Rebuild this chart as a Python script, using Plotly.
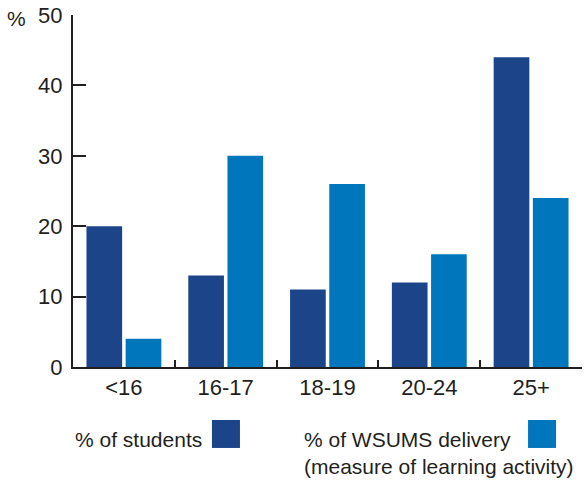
import plotly.graph_objects as go

categories = ["<16", "16-17", "18-19", "20-24", "25+"]
students = [20, 13, 11, 12, 44]
wsums = [4, 30, 26, 16, 24]
series_names = ["% of students", "% of WSUMS delivery"]
legend_note = "(measure of learning activity)"
y_ticks = [0, 10, 20, 30, 40, 50]

DARK = "#1c4589"
LIGHT = "#0077bd"
INK = "#231f20"
FONT = "Liberation Sans, Arial, sans-serif"

fig = go.Figure()
fig.add_trace(go.Bar(x=categories, y=students, name=series_names[0],
                     marker=dict(color=DARK, line=dict(width=0))))
fig.add_trace(go.Bar(x=categories, y=wsums, name=series_names[1],
                     marker=dict(color=LIGHT, line=dict(width=0))))

fig.update_layout(
    width=584, height=480,
    margin=dict(l=73, r=2, t=15, b=113),
    paper_bgcolor="white", plot_bgcolor="white",
    barmode="group", bargap=0.23, bargroupgap=0.09,
    showlegend=False,
    font=dict(family=FONT, size=22, color=INK),
)
fig.update_xaxes(
    type="category", showline=True, linecolor=INK, linewidth=2,
    ticks="inside", tickson="boundaries", ticklen=7, tickwidth=1.5, tickcolor=INK,
    showgrid=False, tickfont=dict(size=22, color=INK),
)
fig.update_yaxes(
    range=[0, 50], tickvals=y_ticks, showline=True, linecolor=INK, linewidth=2,
    ticks="inside", ticklen=13, tickwidth=2, tickcolor=INK,
    showgrid=False, zeroline=False, tickfont=dict(size=22, color=INK),
    ticklabelstandoff=4,
)

fig.add_annotation(text="%", xref="paper", yref="paper", x=-0.111, y=0.991,
                   xanchor="center", yanchor="middle", showarrow=False,
                   font=dict(size=21, color=INK))

# custom legend (text followed by swatch)
fig.add_annotation(text=series_names[0], xref="paper", yref="paper",
                   x=0.0, y=-0.207, xanchor="left", yanchor="middle",
                   showarrow=False, font=dict(size=21, color=INK))
fig.add_shape(type="rect", xref="paper", yref="paper",
              x0=0.273, x1=0.328, y0=-0.1506, y1=-0.230,
              fillcolor=DARK, line=dict(width=0))
fig.add_annotation(text=series_names[1], xref="paper", yref="paper",
                   x=0.449, y=-0.207, xanchor="left", yanchor="middle",
                   showarrow=False, font=dict(size=21, color=INK))
fig.add_annotation(text=legend_note, xref="paper", yref="paper",
                   x=0.449, y=-0.284, xanchor="left", yanchor="middle",
                   showarrow=False, font=dict(size=21, color=INK))
fig.add_shape(type="rect", xref="paper", yref="paper",
              x0=0.894, x1=0.949, y0=-0.1506, y1=-0.230,
              fillcolor=LIGHT, line=dict(width=0))

fig.write_html("out.html", config={"displayModeBar": False},
               post_script="document.body.style.margin='0';")
